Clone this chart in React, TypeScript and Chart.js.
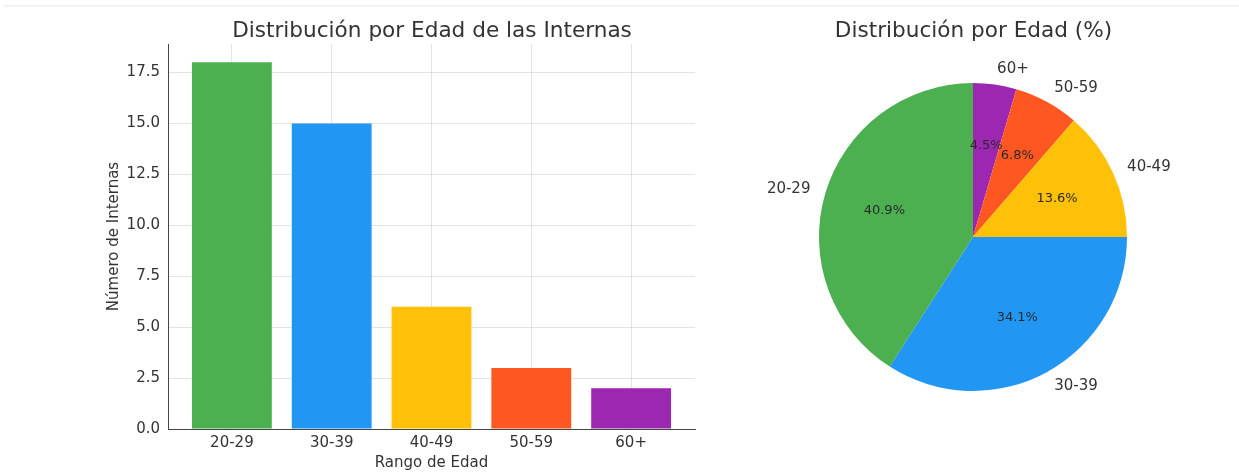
import React, { useEffect, useRef } from "react";
import { Chart, registerables } from "chart.js";

Chart.register(...registerables);

const categories = ["20-29", "30-39", "40-49", "50-59", "60+"];
const counts = [18, 15, 6, 3, 2];
const colors = ["#4CAF50", "#2196F3", "#FFC107", "#FF5722", "#9C27B0"];
const yTicks = [0, 2.5, 5, 7.5, 10, 12.5, 15, 17.5];
const barTitle = "Distribución por Edad de las Internas";
const pieTitle = "Distribución por Edad (%)";
const xAxisLabel = "Rango de Edad";
const yAxisLabel = "Número de Internas";

const FONT = "'DejaVu Sans', sans-serif";
const TEXT = "#333333";
const GRID = "rgba(176,176,176,0.35)";
const SPINE = "#444444";

const titlePlugin = (text: string) => ({
  id: "customTitle",
  afterDraw(chart: any) {
    const { ctx, chartArea } = chart;
    ctx.save();
    ctx.font = `21.6px ${FONT}`;
    ctx.fillStyle = TEXT;
    ctx.textAlign = "center";
    ctx.textBaseline = "alphabetic";
    ctx.fillText(text, (chartArea.left + chartArea.right) / 2 + 0.5, 37);
    ctx.restore();
  },
});

const pieLabelPlugin = {
  id: "pieLabels",
  afterDatasetsDraw(chart: any) {
    const { ctx } = chart;
    const meta = chart.getDatasetMeta(0);
    const values: number[] = chart.data.datasets[0].data;
    const total = values.reduce((a, b) => a + b, 0);
    const labels: string[] = chart.data.labels;
    ctx.save();
    meta.data.forEach((arc: any, i: number) => {
      const { x, y, startAngle, endAngle, outerRadius } = arc.getProps(
        ["x", "y", "startAngle", "endAngle", "outerRadius"],
        true
      );
      const mid = (startAngle + endAngle) / 2;
      const lx = x + Math.cos(mid) * outerRadius * 1.1;
      const ly = y + Math.sin(mid) * outerRadius * 1.1;
      ctx.font = `15px ${FONT}`;
      ctx.fillStyle = TEXT;
      ctx.textBaseline = "middle";
      ctx.textAlign = lx >= x ? "left" : "right";
      ctx.fillText(labels[i], lx, ly);
      const px = x + Math.cos(mid) * outerRadius * 0.6;
      const py = y + Math.sin(mid) * outerRadius * 0.6;
      ctx.font = `13px ${FONT}`;
      ctx.fillStyle = "#2a2a2a";
      ctx.textAlign = "center";
      ctx.fillText(((values[i] / total) * 100).toFixed(1) + "%", px, py);
    });
    ctx.restore();
  },
};

export default function App() {
  const barRef = useRef<HTMLCanvasElement>(null);
  const pieRef = useRef<HTMLCanvasElement>(null);

  useEffect(() => {
    const tickFont = { family: FONT, size: 15 };
    const bar = new Chart(barRef.current!, {
      type: "bar",
      data: {
        datasets: [
          {
            data: categories.map((_, i) => ({ x: i, y: counts[i] })),
            backgroundColor: colors,
            borderWidth: 0,
            barPercentage: 0.8,
            categoryPercentage: 1,
          },
        ],
      },
      options: {
        animation: false,
        responsive: false,
        maintainAspectRatio: false,
        layout: { padding: { left: 100, right: 25, top: 44, bottom: 0 } },
        plugins: {
          legend: { display: false },
          tooltip: { enabled: false },
          title: { display: false },
        },
        scales: {
          x: {
            type: "linear",
            min: -0.64,
            max: 4.64,
            offset: false,
            z: 1,
            grid: { color: GRID, drawTicks: false, offset: false },
            border: { color: SPINE, width: 1 },
            ticks: {
              padding: 5,
              font: tickFont,
              color: TEXT,
              callback: (v: any) => categories[v] ?? "",
            },
            afterBuildTicks: (s: any) => {
              s.ticks = categories.map((_, i) => ({ value: i }));
            },
            afterFit: (s: any) => {
              s.height = 45;
            },
            title: {
              display: true,
              text: xAxisLabel,
              font: tickFont,
              color: TEXT,
              padding: { top: 0, bottom: 1.5 },
            },
          },
          y: {
            type: "linear",
            min: 0,
            max: 18.9,
            z: 1,
            grid: { color: GRID, drawTicks: false },
            border: { color: SPINE, width: 1 },
            ticks: {
              padding: 8,
              font: tickFont,
              color: TEXT,
              callback: (v: any) => Number(v).toFixed(1),
            },
            afterBuildTicks: (s: any) => {
              s.ticks = yTicks.map((v) => ({ value: v }));
            },
            afterFit: (s: any) => {
              s.width = 68;
            },
            title: {
              display: true,
              text: yAxisLabel,
              font: tickFont,
              color: TEXT,
              padding: { top: 5, bottom: 0 },
            },
          },
        },
      } as any,
      plugins: [titlePlugin(barTitle)],
    });

    const order = categories.map((_, i) => i).reverse();
    const pie = new Chart(pieRef.current!, {
      type: "pie",
      data: {
        labels: order.map((i) => categories[i]),
        datasets: [
          {
            data: order.map((i) => counts[i]),
            backgroundColor: order.map((i) => colors[i]),
            borderWidth: 0,
          },
        ],
      },
      options: {
        animation: false,
        responsive: false,
        maintainAspectRatio: false,
        layout: { padding: { left: 99, right: 112, top: 83, bottom: 83 } },
        plugins: {
          legend: { display: false },
          tooltip: { enabled: false },
          title: { display: false },
        },
      } as any,
      plugins: [titlePlugin(pieTitle), pieLabelPlugin],
    });

    return () => {
      bar.destroy();
      pie.destroy();
    };
  }, []);

  return (
    <div
      style={{
        position: "fixed",
        left: 0,
        top: 0,
        width: 1239,
        height: 474,
        background: "#ffffff",
        overflow: "hidden",
      }}
    >
      <div
        style={{
          position: "absolute",
          left: 4,
          right: 0,
          top: 5,
          height: 2,
          background: "#f3f3f3",
        }}
      />
      <canvas
        ref={barRef}
        width={720}
        height={474}
        style={{ position: "absolute", left: 0, top: 0, width: 720, height: 474 }}
      />
      <canvas
        ref={pieRef}
        width={519}
        height={474}
        style={{ position: "absolute", left: 720, top: 0, width: 519, height: 474 }}
      />
    </div>
  );
}
